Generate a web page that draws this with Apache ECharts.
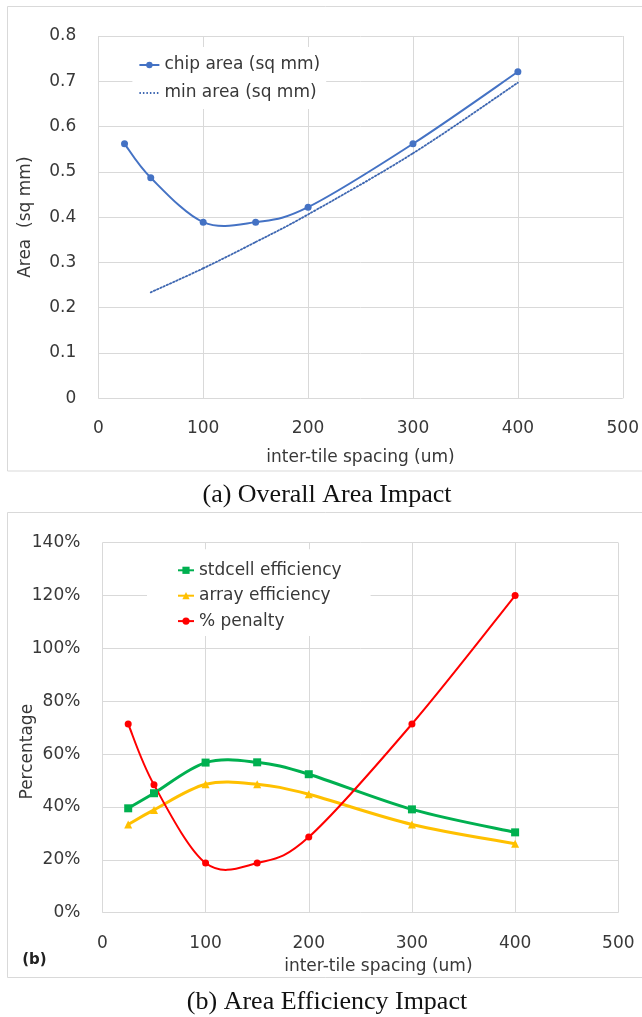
<!DOCTYPE html>
<html>
<head>
<meta charset="utf-8">
<script src="https://cdn.jsdelivr.net/npm/echarts@6/dist/echarts.min.js"></script>
<style>
html,body{margin:0;padding:0;background:#fff;}
#chart{width:642px;height:1017px;}
</style>
</head>
<body>
<div id="chart"></div>
<script>
// ---- data ----
const spacing = [25, 50, 100, 150, 200, 300, 400];
const chipArea = [0.562, 0.487, 0.389, 0.389, 0.422, 0.562, 0.721];
const minSpacing = [50, 100, 150, 200, 300, 400];
const minArea = [0.234, 0.287, 0.345, 0.406, 0.541, 0.697];
const stdcellEff = [39.5, 45.2, 56.8, 56.9, 52.4, 39.1, 30.4];
const arrayEff = [33.4, 38.9, 48.6, 48.6, 44.8, 33.4, 26.1];
const penalty = [71.4, 48.4, 18.8, 18.8, 28.6, 71.4, 120];
const namesA = ['chip area (sq mm)', 'min area (sq mm)'];
const namesB = ['stdcell efficiency', 'array efficiency', '% penalty'];
const captionA = '(a) Overall Area Impact';
const captionB = '(b) Area Efficiency Impact';

const pairs = (xs, ys) => xs.map((x, i) => [x, ys[i]]);

const FONT = 'DejaVu Sans';
const TXT = '#383838';
const GRID = '#D9D9D9';

const chart = echarts.init(document.getElementById('chart'), null, {renderer: 'canvas'});

function xAxis(gridIndex, label, nameGap, namePad) {
  return {
    type: 'value', gridIndex, min: 0, max: 500, interval: 100,
    name: label, nameLocation: 'middle', nameGap, nameMoveOverlap: false,
    nameTextStyle: {fontFamily: FONT, fontSize: 17, color: TXT, padding: namePad},
    axisLine: {show: false}, axisTick: {show: false},
    axisLabel: {fontFamily: FONT, fontSize: 17, color: TXT, margin: 22},
    splitLine: {show: true, lineStyle: {color: GRID, width: 1}}
  };
}
function yAxis(gridIndex, label, max, interval, fmt, nameGap, namePad) {
  return {
    type: 'value', gridIndex, min: 0, max, interval,
    name: label, nameLocation: 'middle', nameGap, nameMoveOverlap: false,
    nameTextStyle: {fontFamily: FONT, fontSize: 17, color: TXT, padding: namePad},
    axisLine: {show: false}, axisTick: {show: false},
    axisLabel: {fontFamily: FONT, fontSize: 17, color: TXT, margin: 22, formatter: fmt},
    splitLine: {show: true, lineStyle: {color: GRID, width: 1}}
  };
}

// Smooth curve (Excel-like Catmull-Rom) drawn through the axes' own coordinate transform
function curve(xs, ys, axisIdx, color, width, dash) {
  return {
    type: 'custom', xAxisIndex: axisIdx, yAxisIndex: axisIdx, z: 2, silent: true,
    data: pairs(xs, ys),
    renderItem(params, api) {
      if (params.dataIndex !== 0) return null;
      const p = xs.map((x, i) => api.coord([x, ys[i]]));
      const n = p.length;
      const children = [];
      for (let i = 0; i < n - 1; i++) {
        const p0 = p[Math.max(i - 1, 0)], p1 = p[i], p2 = p[i + 1], p3 = p[Math.min(i + 2, n - 1)];
        children.push({
          type: 'bezierCurve',
          shape: {
            x1: p1[0], y1: p1[1], x2: p2[0], y2: p2[1],
            cpx1: p1[0] + (p2[0] - p0[0]) / 6, cpy1: p1[1] + (p2[1] - p0[1]) / 6,
            cpx2: p2[0] - (p3[0] - p1[0]) / 6, cpy2: p2[1] - (p3[1] - p1[1]) / 6
          },
          style: {stroke: color, lineWidth: width, fill: null, lineDash: dash || null, lineCap: 'round', lineJoin: 'round'}
        });
      }
      return {type: 'group', children};
    }
  };
}
function markers(name, xs, ys, axisIdx, color, symbol, size, lineW, dashType) {
  return {
    name, type: 'line', xAxisIndex: axisIdx, yAxisIndex: axisIdx, z: 3,
    data: pairs(xs, ys), symbol, symbolSize: size,
    lineStyle: {color, width: lineW, opacity: 0, type: dashType || 'solid'},
    itemStyle: {color}
  };
}

const option = {
  backgroundColor: '#fff',
  animation: false,
  grid: [
    {left: 98.3, right: 16.7, top: 36, bottom: 618.7},
    {left: 102.4, right: 23.7, top: 542.7, bottom: 104.3}
  ],
  xAxis: [
    xAxis(0, 'inter-tile spacing (um)', 51, [0, 0, 0, 0]),
    xAxis(1, 'inter-tile spacing (um)', 45, [0, 0, 0, 36])
  ],
  yAxis: [
    yAxis(0, 'Area  (sq mm)', 0.8, 0.1, null, 64, [0, 0, 0, 0]),
    yAxis(1, 'Percentage', 140, 20, '{value}%', 66.5, [0, 48, 0, 0])
  ],
  legend: [
    {
      data: [
        {name: namesA[0], lineStyle: {opacity: 1}},
        {name: namesA[1], lineStyle: {opacity: 1}, itemStyle: {opacity: 0}}
      ],
      orient: 'vertical', left: 132.4, top: 47,
      padding: [8, 6, 6, 6], backgroundColor: '#fff',
      itemWidth: 20, itemHeight: 8, itemGap: 8,
      textStyle: {fontFamily: FONT, fontSize: 17, color: TXT, lineHeight: 20}
    },
    {
      data: namesB.map(n => ({name: n, lineStyle: {opacity: 1}})),
      orient: 'vertical', left: 147, top: 549.3,
      padding: [11, 29, 5, 30], backgroundColor: '#fff',
      itemWidth: 16, itemHeight: 9, itemGap: 5.4,
      textStyle: {fontFamily: FONT, fontSize: 17, color: TXT, lineHeight: 20}
    }
  ],
  series: [
    curve(spacing, chipArea, 0, '#4472C4', 2),
    curve(minSpacing, minArea, 0, '#3E67B1', 1.8, [1.5, 2]),
    curve(spacing, stdcellEff, 1, '#00B050', 3),
    curve(spacing, arrayEff, 1, '#FFC000', 3),
    curve(spacing, penalty, 1, '#FF0000', 2),
    markers(namesA[0], spacing, chipArea, 0, '#4472C4', 'circle', 7, 2),
    markers(namesA[1], minSpacing, minArea, 0, '#3E67B1', 'none', 0, 1.8, [1.5, 2]),
    markers(namesB[0], spacing, stdcellEff, 1, '#00B050', 'rect', 8, 3),
    markers(namesB[1], spacing, arrayEff, 1, '#FFC000', 'triangle', 8, 3),
    markers(namesB[2], spacing, penalty, 1, '#FF0000', 'circle', 7, 2)
  ],
  graphic: [
    {type: 'rect', z: -1, silent: true, shape: {x: 7.5, y: 6.5, width: 640, height: 464.5},
     style: {fill: null, stroke: GRID, lineWidth: 1}},
    {type: 'rect', z: -1, silent: true, shape: {x: 7.5, y: 512.5, width: 640, height: 465},
     style: {fill: null, stroke: GRID, lineWidth: 1}},
    {type: 'text', x: 327, y: 495, silent: true,
     style: {text: captionA, font: '26px "Liberation Serif"', fill: '#111', align: 'center', verticalAlign: 'middle'}},
    {type: 'text', x: 327, y: 1001.7, silent: true,
     style: {text: captionB, font: '26px "Liberation Serif"', fill: '#111', align: 'center', verticalAlign: 'middle'}},
    {type: 'text', x: 34.4, y: 960, silent: true,
     style: {text: '(b)', font: 'bold 15px "DejaVu Sans"', fill: '#222', align: 'center', verticalAlign: 'middle'}}
  ]
};
chart.setOption(option);
</script>
</body>
</html>
